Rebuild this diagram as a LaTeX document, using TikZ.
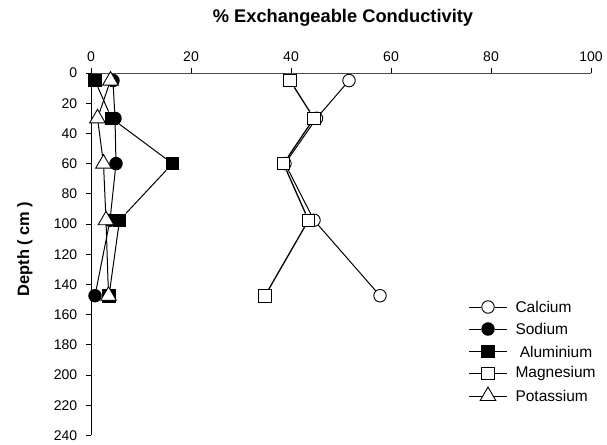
\documentclass[tikz,border=0pt]{standalone}
\usepackage{fontspec}
\setmainfont{Liberation Sans}
\usetikzlibrary{shapes.geometric}
\begin{document}
\begin{tikzpicture}[x=1pt,y=-1pt,
		every node/.style={font=\fontsize{14}{16}\selectfont},
		markbase/.style={draw,line width=0.9pt,inner sep=0pt},
		calmark/.style={markbase,circle,fill=white,minimum size=12.5pt},
		sodmark/.style={markbase,circle,fill=black,minimum size=12.5pt},
		alumark/.style={markbase,rectangle,fill=black,minimum size=12.5pt},
		magmark/.style={markbase,rectangle,fill=white,minimum size=12.5pt},
		potmark/.style={markbase,regular polygon,regular polygon sides=3,fill=white,minimum size=18pt},
		series/.style={line width=1pt},
		legtext/.style={anchor=west,font=\fontsize{15.5}{17}\selectfont}]
	\useasboundingbox (0,0) rectangle (607,444);
	\node[font=\bfseries\fontsize{18.3}{20}\selectfont] (title) at (343,18) {\% Exchangeable Conductivity};
	\node[font=\bfseries\fontsize{16.4}{18}\selectfont,rotate=90] (ylabel) at (25,249) {Depth ( cm )};
	\begin{scope}[shift={(91,73)},x=5pt,y=-1.51pt]
		\coordinate (o) at (0,0);
		\coordinate (xend) at (100,0);
		\coordinate (yend) at (0,240);
		\draw[line width=0.9pt,black!70] (o) -- (xend);
		\draw[line width=0.9pt] (o) -- (yend);
		\foreach \x in {0,20,...,100}
			\draw[line width=0.8pt] (\x,0) -- ++(0,5pt) node[above=3pt] (xt\x) {\x};
		\foreach \d in {0,20,...,240}
			\draw[line width=0.8pt] (0,\d) -- ++(-5pt,0) node[left=5pt] (yt\d) {\d};
		% Calcium
		\foreach \x/\d [count=\i] in {51.6/5,45.1/30,38.8/60,44.6/97.5,57.8/147.5}
			\node[calmark] (ca\i) at (\x,\d) {};
		\draw[series] (ca1) -- (ca2) -- (ca3) -- (ca4) -- (ca5);
		% Sodium
		\foreach \x/\d [count=\i] in {4.4/5,4.8/30,5/60,3.8/97.5,0.8/147.5}
			\node[sodmark] (na\i) at (\x,\d) {};
		\draw[series] (na1) -- (na2) -- (na3) -- (na4) -- (na5);
		% Aluminium
		\foreach \x/\d [count=\i] in {0.8/5,4.1/30,16.3/60,5.7/97.5,3.6/147.5}
			\node[alumark] (al\i) at (\x,\d) {};
		\draw[series] (al1) -- (al2) -- (al3) -- (al4) -- (al5);
		% Magnesium
		\foreach \x/\d [count=\i] in {39.8/5,44.6/30,38.5/60,43.5/97.5,34.8/147.5}
			\node[magmark] (mg\i) at (\x,\d) {};
		\draw[series,line width=1.3pt] (mg1) -- (mg2) -- (mg3) -- (mg4) -- (mg5);
		% Potassium
		\foreach \x/\d [count=\i] in {3.9/5,1.3/30,2.5/60,3/97.5,3.5/147.5}
			\node[potmark] (k\i) at (\x,\d) {};
		\draw[series] (k1) -- (k2) -- (k3) -- (k4) -- (k5);
	\end{scope}
	% legend
	\foreach \name/\sty/\txt/\y in {ca/calmark/Calcium/307,na/sodmark/Sodium/329,al/alumark/{\ Aluminium}/351.5,mg/magmark/Magnesium/373.5,k/potmark/Potassium/396} {
		\coordinate (leg\name a) at (469,\y);
		\coordinate (leg\name b) at (507,\y);
		\node[\sty] (leg\name) at (488,\y) {};
		\draw[series] (leg\name a) -- (leg\name) -- (leg\name b);
		\node[legtext] (leg\name t) at (512,\y) {\txt};
	}
\end{tikzpicture}
\end{document}
